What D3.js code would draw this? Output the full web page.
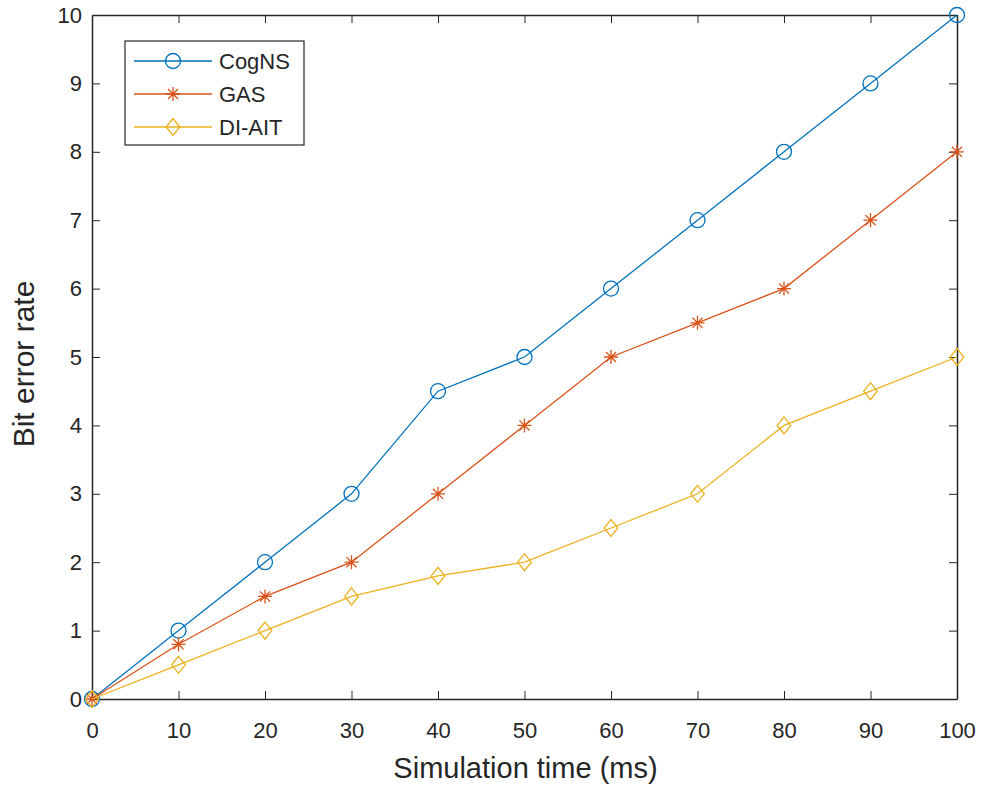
<!DOCTYPE html>
<html>
<head>
<meta charset="utf-8">
<script src="https://cdn.jsdelivr.net/npm/d3@7"></script>
<style>
  body { margin: 0; background: #fff; }
  text { font-family: "Liberation Sans", Arial, sans-serif; fill: #262626; }
</style>
</head>
<body>
<svg width="984" height="791"></svg>
<script>
// values
var times = [0, 10, 20, 30, 40, 50, 60, 70, 80, 90, 100];
var cogns = [0, 1, 2, 3, 4.5, 5, 6, 7, 8, 9, 10];
var gas   = [0, 0.8, 1.5, 2, 3, 4, 5, 5.5, 6, 7, 8];
var diait = [0, 0.5, 1, 1.5, 1.8, 2, 2.5, 3, 4, 4.5, 5];
var xTicks = [0, 10, 20, 30, 40, 50, 60, 70, 80, 90, 100];
var yTicks = [0, 1, 2, 3, 4, 5, 6, 7, 8, 9, 10];

var pLeft = 92, pRight = 957, pTop = 15, pBottom = 699;
var axisCol = "#262626";

var svg = d3.select("svg");
var scX = d3.scaleLinear().domain([0, 100]).range([pLeft, pRight]);
var scY = d3.scaleLinear().domain([0, 10]).range([pBottom, pTop]);

// ticks inward on all four sides
var g = svg.append("g");
g.append("g").attr("transform", "translate(0," + pBottom + ")")
  .call(d3.axisBottom(scX).tickValues(xTicks).tickSizeInner(-8).tickSizeOuter(0).tickPadding(23));
g.append("g").attr("transform", "translate(" + pLeft + ",0)")
  .call(d3.axisLeft(scY).tickValues(yTicks).tickSizeInner(-8).tickSizeOuter(0).tickPadding(10));
g.append("g").attr("transform", "translate(0," + pTop + ")")
  .call(d3.axisTop(scX).tickValues(xTicks).tickSizeInner(-8).tickSizeOuter(0).tickFormat(""));
g.append("g").attr("transform", "translate(" + pRight + ",0)")
  .call(d3.axisRight(scY).tickValues(yTicks).tickSizeInner(-8).tickSizeOuter(0).tickFormat(""));
g.selectAll(".domain").attr("stroke", axisCol).attr("stroke-width", 1.5);
g.selectAll(".tick line").attr("stroke", axisCol);
g.selectAll(".tick text").style("font-size", "22px").attr("fill", axisCol);

svg.append("text").attr("x", (pLeft + pRight) / 2 + 1).attr("y", 778)
  .attr("text-anchor", "middle").style("font-size", "29px").text("Simulation time (ms)");
svg.append("text").attr("transform", "translate(34,364) rotate(-90)")
  .attr("text-anchor", "middle").style("font-size", "30px").text("Bit error rate");

var series = [
  { name: "CogNS", vals: cogns, color: "#0072BD", mark: "circle" },
  { name: "GAS", vals: gas, color: "#D95319", mark: "star" },
  { name: "DI-AIT", vals: diait, color: "#EDB120", mark: "diamond" }
];

function drawMark(sel, type, color, x, y) {
  if (type === "circle") {
    sel.append("circle").attr("cx", x).attr("cy", y).attr("r", 7.5)
      .attr("fill", "none").attr("stroke", color).attr("stroke-width", 1.3);
  } else if (type === "diamond") {
    var s = 8.5;
    sel.append("path").attr("d", "M" + x + "," + (y - s) + "L" + (x + s * 0.8) + "," + y + "L" + x + "," + (y + s) + "L" + (x - s * 0.8) + "," + y + "Z")
      .attr("fill", "none").attr("stroke", color).attr("stroke-width", 1.3);
  } else {
    var r = 7, d = r * 0.72;
    sel.append("path").attr("d",
      "M" + x + "," + (y - r) + "V" + (y + r) +
      "M" + (x - r) + "," + y + "H" + (x + r) +
      "M" + (x - d) + "," + (y - d) + "L" + (x + d) + "," + (y + d) +
      "M" + (x - d) + "," + (y + d) + "L" + (x + d) + "," + (y - d))
      .attr("fill", "none").attr("stroke", color).attr("stroke-width", 1.3);
  }
}

var lineMaker = d3.line().x(function (d, i) { return scX(times[i]); }).y(function (d) { return scY(d); });

series.forEach(function (s) {
  var sg = svg.append("g");
  sg.append("path").attr("d", lineMaker(s.vals))
    .attr("fill", "none").attr("stroke", s.color).attr("stroke-width", 1.3);
  s.vals.forEach(function (v, i) { drawMark(sg, s.mark, s.color, scX(times[i]), scY(v)); });
});

// legend
var lg = svg.append("g");
lg.append("rect").attr("x", 125).attr("y", 41).attr("width", 179).attr("height", 104)
  .attr("fill", "#fff").attr("stroke", axisCol).attr("stroke-width", 1.2);
series.forEach(function (s, i) {
  var y = 61 + i * 33;
  lg.append("line").attr("x1", 134).attr("x2", 212).attr("y1", y).attr("y2", y)
    .attr("stroke", s.color).attr("stroke-width", 1.3);
  drawMark(lg, s.mark, s.color, 173, y);
  lg.append("text").attr("x", 219).attr("y", y + 8).style("font-size", "22px").text(s.name);
});
</script>
</body>
</html>
